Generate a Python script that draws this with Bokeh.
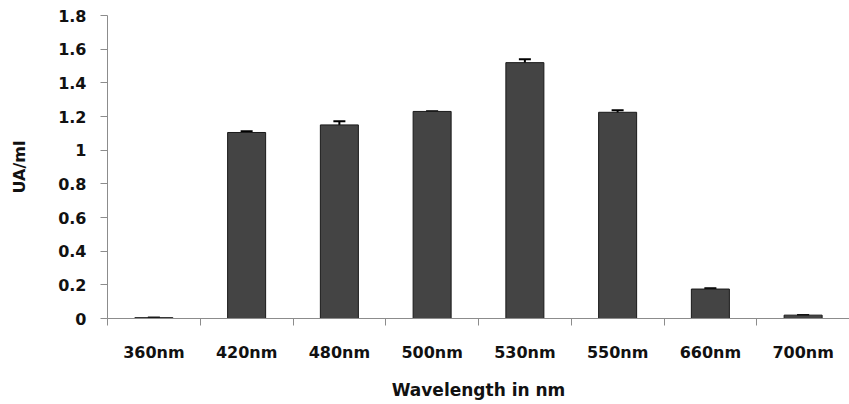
from bokeh.plotting import figure
from bokeh.models import ColumnDataSource, Range1d, FixedTicker, CustomJSTickFormatter, Whisker, TeeHead
from bokeh.embed import file_html
from bokeh.resources import INLINE

categories = ["360nm", "420nm", "480nm", "500nm", "530nm", "550nm", "660nm", "700nm"]
values = [0.005, 1.105, 1.15, 1.23, 1.52, 1.225, 0.175, 0.02]
errors = [0.0, 0.008, 0.022, 0.0, 0.02, 0.012, 0.004, 0.0]
y_ticks = [0, 0.2, 0.4, 0.6, 0.8, 1.0, 1.2, 1.4, 1.6, 1.8]

xs = [i + 0.5 for i in range(len(categories))]
src = ColumnDataSource(dict(
    x=xs, top=values,
    upper=[v + e for v, e in zip(values, errors)],
    lower=[v - e for v, e in zip(values, errors)],
))

p = figure(frame_width=742, frame_height=303, output_backend="svg", toolbar_location=None,
           x_range=Range1d(0, len(categories)), y_range=Range1d(0, 1.8),
           min_border_left=107, min_border_right=0, min_border_top=15, min_border_bottom=10)
p.outline_line_color = None
p.xgrid.visible = False
p.ygrid.visible = False

p.vbar(x="x", top="top", width=0.41, source=src, fill_color="#444444",
       line_color="#1a1a1a", line_width=1)

w = Whisker(base="x", upper="upper", lower="lower", source=src, line_color="black", line_width=2,
            upper_head=TeeHead(size=12, line_color="black", line_width=2),
            lower_head=TeeHead(size=12, line_color="black", line_width=2))
p.add_layout(w)

font = "DejaVu Sans"
# x axis
p.xaxis.ticker = FixedTicker(ticks=xs, minor_ticks=list(range(len(categories) + 1)))
p.xaxis.major_label_overrides = {x: c for x, c in zip(xs, categories)}
p.xaxis.major_tick_line_color = None
p.xaxis.major_tick_out = 0
p.xaxis.major_tick_in = 0
p.xaxis.minor_tick_line_color = "#8c8c8c"
p.xaxis.minor_tick_out = 7
p.xaxis.minor_tick_in = 0
p.xaxis.axis_line_color = "#8c8c8c"
p.xaxis.major_label_standoff = 17
p.xaxis.major_label_text_font = font
p.xaxis.major_label_text_font_style = "bold"
p.xaxis.major_label_text_font_size = "16px"
p.xaxis.major_label_text_color = "#111111"
p.xaxis.axis_label = "Wavelength in nm"
p.xaxis.axis_label_text_font = font
p.xaxis.axis_label_text_font_style = "bold"
p.xaxis.axis_label_text_font_size = "17px"
p.xaxis.axis_label_text_color = "#111111"
p.xaxis.axis_label_standoff = 15

# y axis
p.yaxis.ticker = FixedTicker(ticks=y_ticks)
p.yaxis.formatter = CustomJSTickFormatter(code="return String(Math.round(tick*10)/10);")
p.yaxis.minor_tick_line_color = None
p.yaxis.major_tick_line_color = "#8c8c8c"
p.yaxis.major_tick_out = 7
p.yaxis.major_tick_in = 0
p.yaxis.axis_line_color = "#8c8c8c"
p.yaxis.major_label_standoff = 14
p.yaxis.major_label_text_font = font
p.yaxis.major_label_text_font_style = "bold"
p.yaxis.major_label_text_font_size = "16px"
p.yaxis.major_label_text_color = "#111111"
p.yaxis.axis_label = "UA/ml"
p.yaxis.axis_label_text_font = font
p.yaxis.axis_label_text_font_style = "bold"
p.yaxis.axis_label_text_font_size = "16px"
p.yaxis.axis_label_text_color = "#111111"
p.yaxis.axis_label_standoff = 26

open("out.html", "w").write(file_html(p, INLINE))
